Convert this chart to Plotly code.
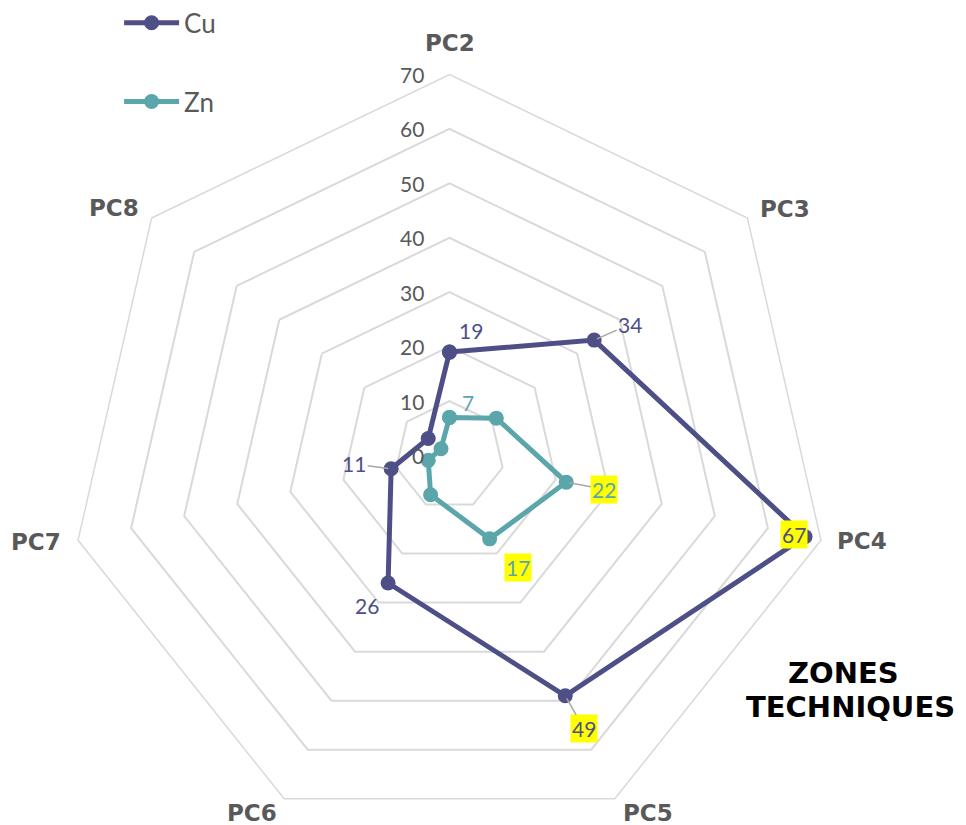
import math
import plotly.graph_objects as go

# data
zones = ["PC2", "PC3", "PC4", "PC5", "PC6", "PC7", "PC8"]
cu_values = [19, 34, 67, 49, 26, 11, 5]
zn_values = [7, 11, 22, 17, 8, 4, 2]
radial_ticks = [0, 10, 20, 30, 40, 50, 60, 70]

CU_COLOR = "#4e4f86"
ZN_COLOR = "#5ba6ab"
GRID = "#d9d9d9"
TEXT = "#595959"
FONT = "Lato"
BOLD_FONT = "DejaVu Sans"

# data label styling: (series, zone index, dx, dy, leader line, yellow box)
labels = [
    ("cu", 0, 21, -22, False, False),
    ("cu", 1, 36, -16, True, False),
    ("cu", 2, -11, -2, False, True),
    ("cu", 3, 19, 33, True, True),
    ("cu", 4, -21, 22, False, False),
    ("cu", 5, -37, -5, True, False),
    ("zn", 0, 18, -15, False, False),
    ("zn", 2, 38, 7, True, True),
    ("zn", 3, 28, 29, False, True),
]
# category label shifts (px) from each outer vertex
zone_shift = [(0, -32), (38, -9), (41, 1), (33, 14), (-32, 14), (-42, 2), (-38, -10)]

# layout geometry (page has an 8px body margin)
W, H = 966, 840
R = 381
CX, CY = 441.5, 447.5
dom_x = [(CX - R) / W, (CX + R) / W]
dom_y = [(H - CY - R) / H, (H - CY + R) / H]
RMAX = 70

fig = go.Figure()

for name, vals, col in [("Cu", cu_values, CU_COLOR), ("Zn", zn_values, ZN_COLOR)]:
    fig.add_trace(go.Scatterpolar(
        r=vals + vals[:1],
        theta=zones + zones[:1],
        mode="lines+markers",
        name=name,
        legendgroup=name,
        line=dict(color=col, width=5),
        marker=dict(color=col, size=15),
    ))

n = len(zones)


def xy(v, i):
    a = 2 * math.pi * i / n
    return v * math.sin(a), v * math.cos(a)


# data labels on a hidden cartesian overlay sharing the polar frame
series = {"cu": (cu_values, CU_COLOR), "zn": (zn_values, ZN_COLOR)}
for key, i, dx, dy, leader, boxed in labels:
    vals, col = series[key]
    x, y = xy(vals[i], i)
    fig.add_annotation(
        x=x, y=y, xref="x", yref="y",
        text=str(vals[i]), showarrow=True, ax=dx, ay=dy,
        arrowhead=0, arrowwidth=1.5, standoff=3,
        arrowcolor="#a6a6a6" if leader else "rgba(0,0,0,0)",
        bgcolor="#ffff00" if boxed else "rgba(0,0,0,0)",
        borderpad=1,
        font=dict(family=FONT, size=21, color=col),
    )

# category labels
for i, z in enumerate(zones):
    x, y = xy(RMAX, i)
    sx, sy = zone_shift[i]
    fig.add_annotation(
        x=x, y=y, xref="x", yref="y", text="<b>%s</b>" % z, showarrow=False,
        xshift=sx, yshift=-sy,
        font=dict(family=BOLD_FONT, size=23, color=TEXT),
    )

# radial tick labels
for t in radial_ticks:
    fig.add_annotation(
        x=0, y=t, xref="x", yref="y", text=str(t), showarrow=False,
        xanchor="right", xshift=-24, yshift=0,
        font=dict(family=FONT, size=21, color=TEXT),
    )

# axis title
for txt, px_, py_ in [("ZONES", 843, 673), ("TECHNIQUES", 850, 707)]:
    fig.add_annotation(
        x=(px_ - 8) / W, y=1 - (py_ - 8) / H, xref="paper", yref="paper",
        xanchor="center", yanchor="middle", text="<b>%s</b>" % txt,
        showarrow=False, font=dict(family=BOLD_FONT, size=29, color="#000000"),
    )

fig.update_layout(
    width=W, height=H,
    margin=dict(l=0, r=0, t=0, b=0, autoexpand=False),
    paper_bgcolor="white", plot_bgcolor="rgba(0,0,0,0)",
    font=dict(family=FONT, color=TEXT),
    showlegend=True,
    legend=dict(x=0.115, y=1.0103, xanchor="left", yanchor="top",
                font=dict(size=26, color=TEXT), tracegroupgap=42,
                itemwidth=55, bgcolor="rgba(0,0,0,0)"),
    polar=dict(
        domain=dict(x=dom_x, y=dom_y),
        gridshape="linear",
        bgcolor="rgba(0,0,0,0)",
        radialaxis=dict(
            range=[0, RMAX], tickvals=radial_ticks, angle=90,
            showticklabels=False, showline=False, ticks="",
            gridcolor=GRID, gridwidth=1.5,
        ),
        angularaxis=dict(
            rotation=90, direction="clockwise", showgrid=False,
            showline=True, linecolor=GRID, linewidth=1.5, ticks="",
            showticklabels=False,
        ),
    ),
    xaxis=dict(domain=dom_x, range=[-RMAX, RMAX], visible=False, fixedrange=True),
    yaxis=dict(domain=dom_y, range=[-RMAX, RMAX], visible=False, fixedrange=True),
)

fig.write_html("out.html")
